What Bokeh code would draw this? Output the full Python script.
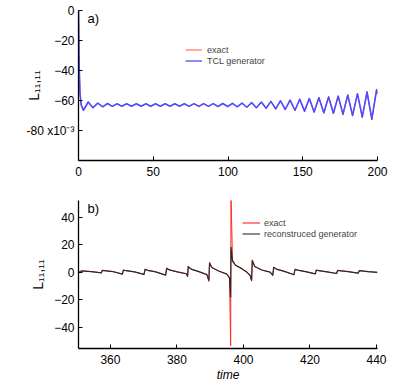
import math
from bokeh.plotting import figure
from bokeh.models import Range1d, FixedTicker, Legend, LegendItem, Label
from bokeh.layouts import column
from bokeh.embed import file_html
from bokeh.resources import INLINE

# ---------------- panel a) data (values x10^-3) ----------------
top_t = [0.0, 0.4, 1.0, 1.8,
         3.3, 6.5, 9.7, 12.9, 16.2, 19.4, 22.6, 25.8,
         29.0, 32.2, 35.5, 38.7, 41.9, 45.1, 48.3, 51.5, 54.7, 58.0,
         61.2, 64.4, 67.6, 70.8, 74.0, 77.2, 80.5, 83.7, 86.9, 90.1,
         93.3, 96.5, 99.8, 103.0, 106.2, 109.4, 112.6, 115.8, 119.0, 122.3,
         125.5, 128.7, 131.9, 135.1, 138.3, 141.5, 144.8, 148.0, 151.2, 154.4,
         157.6, 160.8, 164.1, 167.3, 170.5, 173.7, 176.9, 180.1, 183.3, 186.6,
         189.8, 193.0, 196.2, 199.4,
         200.0]
top_tcl = [0.0, -35.0, -55.0, -63.0,
           -66.5, -61.0, -64.8, -61.8, -64.2, -62.0, -63.9, -62.2,
           -63.8, -62.2, -63.8, -62.2, -63.8, -62.2, -63.8, -62.2, -63.8, -62.2,
           -63.8, -62.2, -63.8, -62.2, -63.9, -62.1, -63.9, -62.1, -63.9, -62.1,
           -64.0, -62.0, -64.0, -61.9, -64.2, -61.7, -64.5, -61.4, -64.8, -61.0,
           -65.2, -60.6, -65.6, -60.2, -66.0, -59.8, -66.5, -59.2, -67.1, -58.7,
           -67.6, -58.2, -68.1, -57.7, -68.5, -57.2, -69.1, -56.5, -69.9, -55.6,
           -70.9, -54.5, -72.3, -53.0,
           -55.5]
top_exact = [0.0, -35.0, -55.0, -63.0,
             -66.5, -61.0, -64.8, -61.8, -64.2, -62.0, -63.9, -62.2,
             -63.8, -62.2, -63.8, -62.2, -63.8, -62.2, -63.8, -62.2, -63.8, -62.2,
             -63.8, -62.2, -63.8, -62.2, -63.9, -62.1, -63.9, -62.1, -63.9, -62.1,
             -64.0, -62.0, -64.0, -61.9, -64.2, -61.7, -64.5, -61.4, -64.8, -61.0,
             -65.2, -60.6, -65.8, -60.0, -66.2, -59.6, -66.8, -58.9, -67.4, -58.4,
             -67.9, -57.9, -68.5, -57.3, -68.9, -56.8, -69.6, -56.0, -70.4, -55.1,
             -71.5, -53.9, -73.0, -52.3,
             -55.0]
top_xticks = [0, 50, 100, 150, 200]
top_yticks = [-80, -60, -40, -20, 0]

# ---------------- panel b) data ----------------
bot_t = [350.4, 351.0, 351.2, 354.3, 357.3, 357.5, 360.7, 363.6, 363.9, 364.7,
         367.2, 370.1, 370.4, 371.2, 373.6, 376.6, 376.9, 377.7, 380.1, 382.8,
         383.2, 383.4, 384.2, 386.6, 389.0, 389.6, 389.8, 390.5, 392.5, 395.0,
         395.8, 396.15, 396.25, 396.7, 397.6, 399.5, 401.0, 402.0, 402.45, 402.65,
         403.4, 405.5, 408.0, 408.8, 409.1, 409.9, 412.3, 415.2, 415.5, 416.3,
         418.7, 421.6, 421.9, 422.7, 425.1, 428.0, 428.3, 431.5, 434.5, 434.8,
         437.5, 440.3]
bot_gen = [0.3, -0.3, 0.9, 0.3, -0.5, 1.2, 0.4, -1.5, 1.5, 1.0,
           0.2, -1.7, 2.0, 1.3, 0.2, -2.2, 2.7, 1.6, 0.2, -1.2,
           -2.9, 3.9, 2.2, 0.3, -1.8, -5.9, 6.3, 3.3, 0.8, -1.5,
           -4.0, -18.0, 18.0, 8.0, 5.0, 2.5, 0.0, -2.5, -5.9, 8.3,
           4.0, 1.5, 0.0, -2.2, 3.4, 2.2, 0.5, -1.9, 2.0, 1.4,
           0.3, -1.3, 1.5, 1.0, 0.2, -1.0, 1.2, 0.3, -0.8, 1.0,
           0.3, -0.2]
bot_exact = [0.3, -0.3, 0.9, 0.3, -0.5, 1.2, 0.4, -1.5, 1.5, 1.0,
             0.2, -1.7, 2.0, 1.3, 0.2, -2.2, 2.7, 1.6, 0.2, -1.2,
             -3.3, 4.3, 2.2, 0.3, -1.8, -6.8, 7.2, 3.3, 0.8, -1.5,
             -4.5, -53.5, 56.0, 9.0, 5.0, 2.5, 0.0, -2.5, -6.6, 8.9,
             4.0, 1.5, 0.0, -2.5, 3.7, 2.2, 0.5, -1.9, 2.0, 1.4,
             0.3, -1.3, 1.5, 1.0, 0.2, -1.0, 1.2, 0.3, -0.8, 1.0,
             0.3, -0.2]
bot_xticks = [360, 380, 400, 420, 440]
bot_yticks = [-40, -20, 0, 20, 40]

FONT = "Liberation Sans"
RED = "#ff2a2a"
BLUE = "#4d4dff"
BLACK = "#2a2a2a"


def style(p):
    p.outline_line_color = None
    p.xgrid.visible = False
    p.ygrid.visible = False
    p.background_fill_color = "white"
    p.border_fill_color = "white"
    for ax in p.axis:
        ax.axis_line_width = 1.3
        ax.axis_line_color = "black"
        ax.major_tick_in = 4
        ax.major_tick_out = 0
        ax.major_tick_line_color = "black"
        ax.minor_tick_line_color = None
        ax.major_label_text_font = FONT
        ax.major_label_text_font_size = "12px"
        ax.major_label_text_color = "black"
        ax.axis_label_text_font = FONT
        ax.axis_label_text_color = "black"
    p.xaxis.major_label_standoff = 6
    p.yaxis.major_label_standoff = 4


def lab(p, x, y, text, size):
    p.add_layout(Label(x=x, y=y, text=text, text_font=FONT, text_font_size=size,
                       text_align="left", text_baseline="middle", text_color="black"))


def legend(items, loc, gw, standoff):
    return Legend(items=items, location=loc, orientation="vertical",
                  label_text_font=FONT, label_text_font_size="9px",
                  glyph_width=gw, glyph_height=11, label_height=11, spacing=0,
                  padding=0, margin=0, label_standoff=standoff,
                  border_line_color=None, background_fill_alpha=0)


# ---------------- panel a) ----------------
p1 = figure(width=400, height=190, x_range=Range1d(0, 200), y_range=Range1d(-100, 0),
            min_border_left=78, min_border_right=23, min_border_top=10, min_border_bottom=30,
            output_backend="svg", toolbar_location=None)
style(p1)
p1.xaxis.ticker = FixedTicker(ticks=top_xticks)
p1.yaxis.ticker = FixedTicker(ticks=top_yticks)
p1.yaxis.major_label_overrides = {-80: "-80 x10\u207b\u00b3"}
p1.yaxis.axis_label = "L\u2081\u2081,\u2081\u2081"
p1.yaxis.axis_label_text_font_size = "14px"
p1.yaxis.axis_label_text_font_style = "normal"
p1.yaxis.axis_label_standoff = -19

p1.line(top_t, top_exact, line_color=RED, line_width=0.9, line_join="round")
p1.line(top_t, top_tcl, line_color=BLUE, line_width=1.6, line_join="round")
# legend samples (kept off-range so only the legend glyph shows)
k1e = p1.line([-50, -40], [50, 50], line_color="#ff5555", line_width=1)
k1g = p1.line([-50, -40], [50, 50], line_color="#6f6fff", line_width=1.6)
p1.add_layout(legend([LegendItem(label="exact", renderers=[k1e]),
                      LegendItem(label="TCL generator", renderers=[k1g])],
                     (107, 94), 17, 5))


def tx(px):
    return (px - 78) * 200.0 / 299.0


def ty(py):
    return -(py - 10) * 100.0 / 150.0


lab(p1, tx(87), ty(17.5), "a)", "13px")

# ---------------- panel b) ----------------
p2 = figure(width=400, height=194, x_range=Range1d(350.4, 440.3), y_range=Range1d(-55.5, 52.0),
            min_border_left=78, min_border_right=23, min_border_top=10, min_border_bottom=36,
            output_backend="svg", toolbar_location=None)
style(p2)
p2.xaxis.ticker = FixedTicker(ticks=bot_xticks)
p2.yaxis.ticker = FixedTicker(ticks=bot_yticks)
p2.yaxis.axis_label = "L\u2081\u2081,\u2081\u2081"
p2.yaxis.axis_label_text_font_size = "14px"
p2.yaxis.axis_label_text_font_style = "normal"
p2.yaxis.axis_label_standoff = 5
p2.xaxis.axis_label = "time"
p2.xaxis.axis_label_text_font_size = "12px"
p2.xaxis.axis_label_text_font_style = "italic"
p2.xaxis.axis_label_standoff = 1

p2.line(bot_t, bot_exact, line_color=RED, line_width=1.0, line_join="round")
p2.line(bot_t, bot_gen, line_color=BLACK, line_width=1.2, line_join="round")
k2e = p2.line([300, 310], [100, 100], line_color="#ff3333", line_width=1.2)
k2g = p2.line([300, 310], [100, 100], line_color="#666666", line_width=1.5)
p2.add_layout(legend([LegendItem(label="exact", renderers=[k2e]),
                      LegendItem(label="reconstruced generator", renderers=[k2g])],
                     (164, 109), 18, 4))


def bx(px):
    return 350.4 + (px - 78) * 89.9 / 299.0


def by(py):
    return 52.0 - (py - 200) * 107.5 / 148.0


lab(p2, bx(87), by(208), "b)", "13px")

layout = column(p1, p2, styles={"position": "absolute", "left": "0px", "top": "0px"})
open("out.html", "w").write(file_html(layout, INLINE))
